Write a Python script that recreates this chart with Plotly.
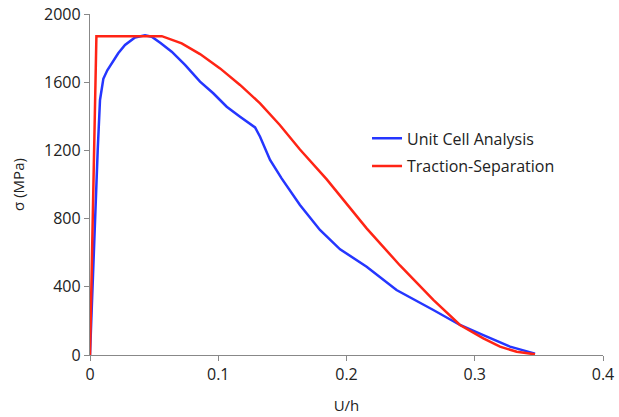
import plotly.graph_objects as go

# Unit Cell Analysis (blue)
uc_x = [0.0, 0.002, 0.004, 0.006, 0.0078, 0.0104, 0.0135, 0.0169, 0.022, 0.0273, 0.0351,
        0.0429, 0.0481, 0.055, 0.0637, 0.0741, 0.0858, 0.0961, 0.1066, 0.117, 0.1287,
        0.1326, 0.1404, 0.1494, 0.1637, 0.1793, 0.195, 0.2157, 0.239, 0.2677, 0.2885,
        0.3067, 0.3275, 0.347]
uc_y = [0, 420, 830, 1200, 1496, 1620, 1670, 1711, 1770, 1818, 1862,
        1875, 1867, 1830, 1779, 1701, 1603, 1535, 1456, 1398, 1335,
        1280, 1144, 1036, 880, 733, 620, 518, 381, 264, 176,
        117, 49, 8]

# Traction-Separation (red)
ts_x = [0.0, 0.005, 0.056, 0.0715, 0.0858, 0.1014, 0.117, 0.1326, 0.148, 0.1637, 0.1846,
        0.2157, 0.2417, 0.26, 0.2677, 0.2885, 0.3067, 0.3197, 0.3327, 0.347]
ts_y = [0, 1870, 1870, 1828, 1765, 1681, 1584, 1476, 1349, 1205, 1030,
        743, 525, 381, 323, 176, 98, 49, 19, 4]

x_ticks = [0, 0.1, 0.2, 0.3, 0.4]
y_ticks = [0, 400, 800, 1200, 1600, 2000]

fig = go.Figure()
fig.add_trace(go.Scatter(x=uc_x, y=uc_y, mode="lines", name="Unit Cell Analysis",
                         legendgroup="a",
                         line=dict(color="#2536ff", width=2.5)))
fig.add_trace(go.Scatter(x=ts_x, y=ts_y, mode="lines", name="Traction-Separation",
                         legendgroup="b",
                         line=dict(color="#ff2415", width=2.5)))

axis_common = dict(showgrid=False, zeroline=False, showline=True, linecolor="#888888",
                   linewidth=1.3, ticks="outside", tickcolor="#888888", ticklen=5,
                   automargin=False,
                   tickfont=dict(family="Open Sans", size=16, color="#222222"))

fig.update_layout(
    width=619, height=417,
    margin=dict(l=90, r=16, t=14, b=62),
    paper_bgcolor="white", plot_bgcolor="white",
    font=dict(family="Open Sans", size=15, color="#222222"),
    xaxis=dict(range=[0, 0.4], tickvals=x_ticks, ticktext=[str(v) for v in x_ticks],
               title=dict(text="U/h", standoff=16, font=dict(size=15)), **axis_common),
    yaxis=dict(range=[0, 2000], tickvals=y_ticks, ticktext=[str(v) for v in y_ticks],
               title=dict(text="σ (MPa)", standoff=15, font=dict(size=15)), **axis_common),
    legend=dict(x=0.54, y=0.685, xanchor="left", yanchor="top", itemwidth=30,
                bgcolor="rgba(0,0,0,0)", font=dict(family="Open Sans", size=16),
                tracegroupgap=4),
    showlegend=True,
)

fig.write_html("out.html", config={"displayModeBar": False},
               post_script="document.body.style.margin='0px';")
